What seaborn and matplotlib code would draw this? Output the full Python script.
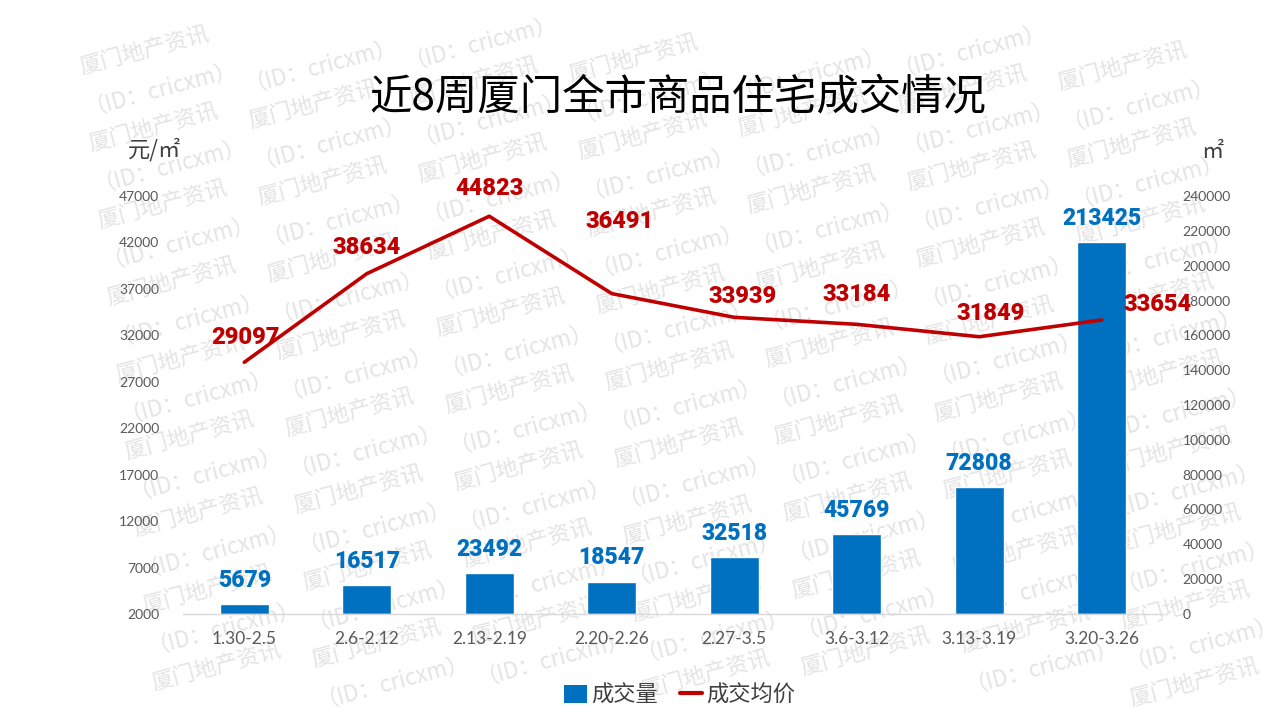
import numpy as np
import pandas as pd
import matplotlib
matplotlib.use("Agg")
import matplotlib.pyplot as plt
import seaborn as sns
from matplotlib.patches import Patch
from matplotlib.lines import Line2D

# ---------------- data ----------------
weeks = ["1.30-2.5", "2.6-2.12", "2.13-2.19", "2.20-2.26",
         "2.27-3.5", "3.6-3.12", "3.13-3.19", "3.20-3.26"]
volume = [5679, 16517, 23492, 18547, 32518, 45769, 72808, 213425]      # 成交量 (㎡)
price = [29097, 38634, 44823, 36491, 33939, 33184, 31849, 33654]        # 成交均价 (元/㎡)
left_ticks = list(range(2000, 47001, 5000))
right_ticks = list(range(0, 240001, 20000))
title = "近8周厦门全市商品住宅成交情况"
legend_labels = ["成交量", "成交均价"]
left_unit = "元/㎡"
right_unit = "㎡"
watermark_lines = ["厦门地产资讯", "（ID：cricxm）"]

# label offsets (pixels: dx, dy-up) for the price labels — styling only
price_label_offsets = [(1, 25), (0, 26), (0, 28), (8, 72), (8, 21), (0, 30), (11, 23), (56, 15)]

BLUE = "#0070C0"
RED = "#C00000"
GRAY = "#595959"

df = pd.DataFrame({"week": weeks, "volume": volume, "price": price, "idx": np.arange(len(weeks))})

sns.set_theme(style="white")
plt.rcParams["font.family"] = ["Noto Sans CJK SC", "DejaVu Sans"]

W, H = 1280, 720
fig = plt.figure(figsize=(12.8, 7.2), dpi=100, facecolor="white")

def px(x, y):
    return x / W, 1 - y / H

# ---------------- watermark (only instances fully inside the canvas) ----------------
u = (160, -23)
v = (4.5, 38.5)
x0, y0 = 80, 68
for i in range(-4, 13):
    for j in range(-12, 30):
        x = x0 + i * u[0] + j * v[0]
        y = y0 + i * u[1] + j * v[1]
        if 2 <= x and x + 148 <= W - 2 and y - 56 >= 2 and y + 14 <= H - 2:
            fx, fy = px(x, y)
            fig.text(fx, fy, watermark_lines[j % 2], fontsize=16, color="#e4e4e4",
                     rotation=15, rotation_mode="anchor", ha="left", va="center",
                     zorder=-5)

# ---------------- axes ----------------
L, R, B, T = 183, 1163, 614, 196
ax = fig.add_axes([L / W, 1 - B / H, (R - L) / W, (B - T) / H])
ax.patch.set_visible(False)

sns.barplot(data=df, x="week", y="volume", color=BLUE, saturation=1, width=0.4, ax=ax,
            zorder=2)
ax.set_xlabel("")
ax.set_ylabel("")

ax2 = ax.twinx()
ax2.patch.set_visible(False)
sns.lineplot(data=df, x="idx", y="price", color=RED, linewidth=2.6, ax=ax2, zorder=3)

# bars -> right axis, line -> left axis
ax.set_ylim(0, 240000)
ax.set_yticks(right_ticks)
ax.yaxis.tick_right()
ax2.set_ylim(2000, 47000)
ax2.set_yticks(left_ticks)
ax2.yaxis.tick_left()
ax2.set_ylabel("")
ax2.set_xlabel("")
ax.set_xlim(-0.5, len(weeks) - 0.5)

# tick styling
ax.tick_params(axis="y", which="both", left=False, right=True, labelleft=False, labelright=True,
               length=0, pad=14, labelsize=10, labelcolor=GRAY, labelfontfamily="Lato")
ax2.tick_params(axis="y", which="both", left=True, right=False, labelleft=True, labelright=False,
                length=0, pad=17, labelsize=10, labelcolor=GRAY, labelfontfamily="Lato")
ax.set_xticks(np.arange(len(weeks)))
ax.set_xticklabels(weeks)
ax.tick_params(axis="x", which="major", length=0, pad=12, labelsize=12.5, labelcolor=GRAY,
               labelfontfamily="Lato")
ax.set_xticks(np.arange(len(weeks) + 1) - 0.5, minor=True)
ax.tick_params(axis="x", which="minor", length=5, width=1, color="#d9d9d9", direction="out")

for a in (ax, ax2):
    for s in ("top", "left", "right", "bottom"):
        a.spines[s].set_visible(False)
    a.grid(False)
ax.spines["bottom"].set_visible(True)
ax.spines["bottom"].set_color("#d9d9d9")
ax.spines["bottom"].set_linewidth(1)

# ---------------- value labels ----------------
num_font = dict(family="Roboto", fontweight="heavy")
for i, vval in enumerate(volume):
    ax.annotate(f"{vval}", xy=(i, vval), xytext=(0, 24 * 0.72), textcoords="offset points",
                ha="center", va="center", color=BLUE, fontsize=16.5, zorder=5, **num_font)
for i, pval in enumerate(price):
    dx, dy = price_label_offsets[i]
    ax2.annotate(f"{pval}", xy=(i, pval), xytext=(dx * 0.72, dy * 0.72),
                 textcoords="offset points", ha="center", va="center", color=RED,
                 fontsize=17, zorder=6, **num_font)

# ---------------- titles / units ----------------
fx, fy = px(678, 97)
fig.text(fx, fy, title, ha="center", va="center", fontsize=30.5, color="black",
         fontweight="medium")
fx, fy = px(155, 150)
fig.text(fx, fy, left_unit, ha="center", va="center", fontsize=16, color="#404040")
fx, fy = px(1212, 152)
fig.text(fx, fy, right_unit, ha="center", va="center", fontsize=16, color="#404040")

# ---------------- legend ----------------
handles = [Patch(facecolor=BLUE, edgecolor="none"),
           Line2D([0], [0], color=RED, linewidth=3)]
fx, fy = px(680, 695)
fig.legend(handles, legend_labels, loc="center", bbox_to_anchor=(fx, fy), ncol=2,
           frameon=False, fontsize=16, handlelength=1.0, handleheight=0.9,
           handletextpad=0.2, columnspacing=1.0, labelcolor="#404040")

fig.savefig("out.png", dpi=100, facecolor="white")
